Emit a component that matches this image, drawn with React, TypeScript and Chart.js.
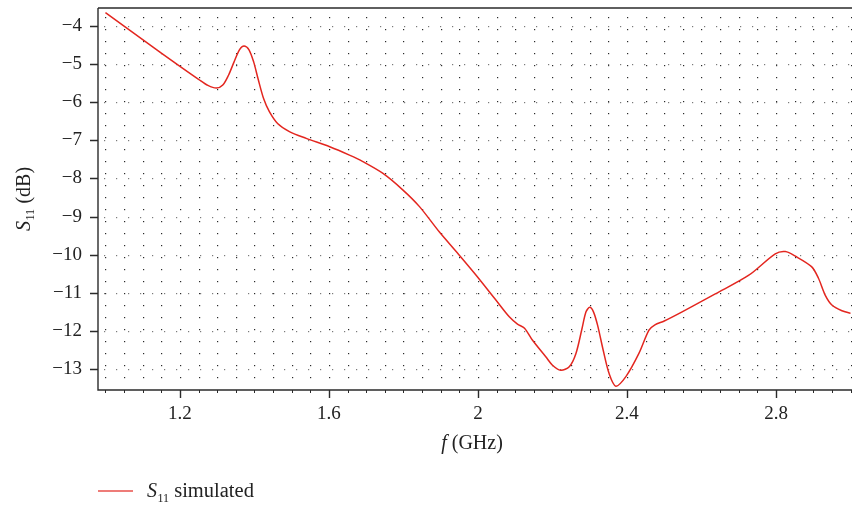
import React, { useEffect, useRef } from "react";
import { Chart, registerables } from "chart.js";

Chart.register(...registerables);

// ---- data ----
const freqGHz = [
  1.0, 1.1, 1.2, 1.25, 1.275, 1.298, 1.315, 1.33, 1.345, 1.36, 1.372, 1.385, 1.398, 1.41, 1.425,
  1.44, 1.462, 1.495, 1.539, 1.602, 1.655, 1.691, 1.745, 1.798, 1.843, 1.896, 1.946, 1.995, 2.048,
  2.084, 2.106, 2.125, 2.146, 2.182, 2.2, 2.222, 2.245, 2.263, 2.279, 2.29, 2.3, 2.31, 2.321, 2.336,
  2.352, 2.37, 2.397, 2.432, 2.459, 2.475, 2.5, 2.548, 2.637, 2.727, 2.798, 2.825, 2.852, 2.896,
  2.914, 2.932, 2.95, 2.977, 3.0,
];
const s11Simulated = [
  -3.65, -4.36, -5.06, -5.4, -5.56, -5.63, -5.55, -5.3, -4.95, -4.62, -4.525, -4.62, -4.95, -5.4, -5.92,
  -6.25, -6.56, -6.78, -6.95, -7.17, -7.39, -7.56, -7.87, -8.3, -8.74, -9.4, -9.97, -10.54, -11.19,
  -11.63, -11.82, -11.93, -12.24, -12.68, -12.9, -13.03, -12.94, -12.59, -11.95, -11.5, -11.38, -11.5,
  -11.85, -12.5, -13.12, -13.45, -13.2, -12.59, -11.98, -11.84, -11.74, -11.5, -11.03, -10.54, -9.98,
  -9.92, -10.04, -10.32, -10.62, -11.06, -11.32, -11.47, -11.54,
];
const xMajorTicks = [1.2, 1.6, 2.0, 2.4, 2.8];
const yTicks = [-13, -12, -11, -10, -9, -8, -7, -6, -5, -4];
const xRange = [0.98, 3.004];
const yRange = [-13.55, -3.53];
const xMinorStep = 0.05;

const LINE_COLOR = "#e3261f";
const SERIF = '"Liberation Serif", "DejaVu Serif", serif';

function minorXValues(): number[] {
  const out: number[] = [];
  for (let k = 0; ; k++) {
    const v = Math.round((1.0 + k * xMinorStep) * 1000) / 1000;
    if (v > 3.0001) break;
    out.push(v);
  }
  return out;
}

const decorPlugin = {
  id: "decor",
  beforeDatasetsDraw(chart: any) {
    const { ctx, chartArea: a, scales } = chart;
    const x = scales.x;
    const y = scales.y;
    ctx.save();
    // vertical dotted columns
    ctx.fillStyle = "#2a2a2a";
    for (const v of minorXValues()) {
      const px = Math.round(x.getPixelForValue(v));
      for (let py = a.top + 9; py < a.bottom - 1; py += 12) {
        ctx.fillRect(px, py, 1.2, 1.2);
      }
    }
    // horizontal major dotted rows
    ctx.fillStyle = "#7a7a7a";
    for (const v of yTicks) {
      const py = Math.round(y.getPixelForValue(v));
      for (let px = a.left + 6; px < a.right; px += 12) {
        ctx.fillRect(px, py, 1.2, 1.2);
      }
    }
    ctx.restore();
  },
  afterDraw(chart: any) {
    const { ctx, chartArea: a, scales } = chart;
    const x = scales.x;
    const y = scales.y;
    ctx.save();
    ctx.strokeStyle = "#2b2b2b";
    ctx.lineWidth = 1.4;
    ctx.beginPath();
    ctx.moveTo(a.left, a.top);
    ctx.lineTo(a.right, a.top);
    ctx.moveTo(a.left, a.top);
    ctx.lineTo(a.left, a.bottom);
    ctx.lineTo(a.right, a.bottom);
    ctx.stroke();

    // x ticks
    ctx.lineWidth = 1;
    ctx.beginPath();
    for (const v of minorXValues()) {
      const px = Math.round(x.getPixelForValue(v)) + 0.5;
      ctx.moveTo(px, a.bottom);
      ctx.lineTo(px, a.bottom + 3);
    }
    ctx.stroke();
    ctx.lineWidth = 1.4;
    ctx.beginPath();
    for (const v of xMajorTicks) {
      const px = Math.round(x.getPixelForValue(v)) + 0.5;
      ctx.moveTo(px, a.bottom);
      ctx.lineTo(px, a.bottom + 8);
    }
    // y ticks
    for (const v of yTicks) {
      const py = Math.round(y.getPixelForValue(v)) + 0.5;
      ctx.moveTo(a.left, py);
      ctx.lineTo(a.left - 8, py);
    }
    ctx.stroke();

    // x title: f (GHz)
    ctx.fillStyle = "#222";
    ctx.textBaseline = "alphabetic";
    const fFont = `italic 20px ${SERIF}`;
    const rFont = `20px ${SERIF}`;
    ctx.font = fFont;
    const wf = ctx.measureText("f").width;
    ctx.font = rFont;
    const wr = ctx.measureText(" (GHz)").width;
    const cx = (a.left + a.right) / 2 - 3;
    const sx = cx - (wf + wr) / 2;
    const by = 449;
    ctx.font = fFont;
    ctx.fillText("f", sx, by);
    ctx.font = rFont;
    ctx.fillText(" (GHz)", sx + wf, by);

    // y title: S11 (dB), rotated
    ctx.save();
    const subFont = `12px ${SERIF}`;
    ctx.font = `italic 20px ${SERIF}`;
    const wS = ctx.measureText("S").width;
    ctx.font = subFont;
    const w11 = ctx.measureText("11").width;
    ctx.font = rFont;
    const wDb = ctx.measureText(" (dB)").width;
    const total = wS + w11 + 1 + wDb;
    ctx.translate(30, (a.top + a.bottom) / 2);
    ctx.rotate(-Math.PI / 2);
    let tx = -total / 2;
    ctx.font = `italic 20px ${SERIF}`;
    ctx.fillText("S", tx, 0);
    tx += wS + 0.5;
    ctx.font = subFont;
    ctx.fillText("11", tx, 4);
    tx += w11 + 0.5;
    ctx.font = rFont;
    ctx.fillText(" (dB)", tx, 0);
    ctx.restore();

    // legend
    ctx.strokeStyle = LINE_COLOR;
    ctx.globalAlpha = 0.8;
    ctx.lineWidth = 1.4;
    ctx.beginPath();
    ctx.moveTo(98, 491);
    ctx.lineTo(133, 491);
    ctx.stroke();
    ctx.globalAlpha = 1;
    ctx.fillStyle = "#222";
    let lx = 147;
    const ly = 497;
    ctx.font = `italic 20px ${SERIF}`;
    ctx.fillText("S", lx, ly);
    lx += ctx.measureText("S").width + 0.5;
    ctx.font = subFont;
    ctx.fillText("11", lx, ly + 5);
    lx += ctx.measureText("11").width;
    ctx.font = `20.5px ${SERIF}`;
    ctx.fillText(" simulated", lx, ly);
    ctx.restore();
  },
};

export default function App() {
  const canvasRef = useRef<HTMLCanvasElement | null>(null);

  useEffect(() => {
    document.body.style.margin = "0";
    const canvas = canvasRef.current;
    if (!canvas) return;
    const points = freqGHz.map((f, i) => ({ x: f, y: s11Simulated[i] }));
    const chart = new Chart(canvas, {
      type: "line",
      data: {
        datasets: [
          {
            label: "S11 simulated",
            data: points,
            borderColor: LINE_COLOR,
            borderWidth: 1.5,
            pointRadius: 0,
            fill: false,
            tension: 0.3,
          },
        ],
      },
      options: {
        responsive: false,
        animation: false,
        maintainAspectRatio: false,
        layout: { padding: { top: 8, right: 0, left: 0, bottom: 0 } },
        plugins: { legend: { display: false }, tooltip: { enabled: false } },
        scales: {
          x: {
            type: "linear",
            min: xRange[0],
            max: xRange[1],
            grid: { display: false, drawTicks: false },
            border: { display: false },
            afterBuildTicks: (scale: any) => {
              scale.ticks = xMajorTicks.map((v) => ({ value: v }));
            },
            afterFit: (scale: any) => {
              scale.height = 117;
              scale.paddingLeft = 0;
              scale.paddingRight = 0;
            },
            ticks: {
              autoSkip: false,
              maxRotation: 0,
              padding: 13,
              color: "#222",
              font: { family: SERIF, size: 19 },
              callback: (v: any) => String(Math.round(Number(v) * 10) / 10),
            },
          },
          y: {
            type: "linear",
            min: yRange[0],
            max: yRange[1],
            grid: { display: false, drawTicks: false },
            border: { display: false },
            afterBuildTicks: (scale: any) => {
              scale.ticks = yTicks.map((v) => ({ value: v }));
            },
            afterFit: (scale: any) => {
              scale.width = 98;
              scale.paddingTop = 0;
              scale.paddingBottom = 0;
            },
            ticks: {
              autoSkip: false,
              padding: 16,
              color: "#222",
              font: { family: SERIF, size: 19 },
              callback: (v: any) => "\u2212" + String(Math.abs(Number(v))),
            },
          },
        },
      },
      plugins: [decorPlugin],
    });
    return () => chart.destroy();
  }, []);

  return (
    <div style={{ position: "absolute", left: 0, top: 0, width: 852, height: 507 }}>
      <canvas ref={canvasRef} width={852} height={507} style={{ width: 852, height: 507 }} />
    </div>
  );
}
